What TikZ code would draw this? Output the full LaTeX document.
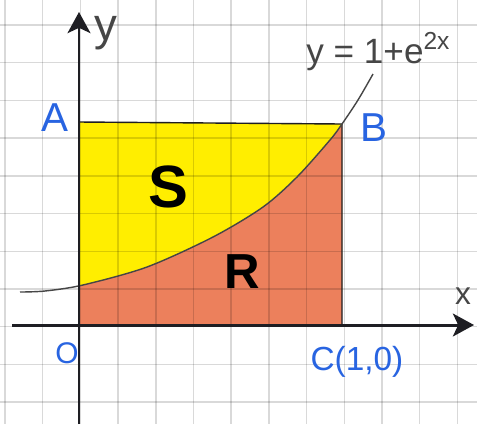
\documentclass[tikz,border=0pt]{standalone}
\usepackage{fontspec}
\setmainfont{Liberation Sans}
\usetikzlibrary{arrows.meta}
\definecolor{hiyellow}{RGB}{255,238,0}
\definecolor{salmon}{RGB}{236,128,92}
\definecolor{penblue}{RGB}{40,100,225}
\definecolor{ink}{RGB}{30,30,35}
\definecolor{pencil}{RGB}{70,70,70}
\tikzset{
  gridline/.style={black,opacity=0.15,line width=0.8pt},
  axisline/.style={ink,line width=1.7pt,-{Stealth[length=12pt,width=13pt,inset=3pt]}},
  edgeline/.style={ink,line width=0.8pt},
  curveline/.style={pencil,line width=0.8pt},
  bluelbl/.style={penblue,inner sep=0pt},
  fs/.style={font=\fontsize{#1}{#1}\selectfont},
  fsb/.style={font=\fontsize{#1}{#1}\selectfont\bfseries}
}
\begin{document}
\begin{tikzpicture}[x=0.02cm,y=-0.02cm]
\useasboundingbox (0,0) rectangle (477,424);
\fill[white] (0,0) rectangle (477,424);
% points
\coordinate (O) at (79,325);
\coordinate (A) at (79,122);
\coordinate (B) at (342,124);
\coordinate (C) at (342,325);
\coordinate (D) at (79,286);
\coordinate (ybot) at (79,424);
\coordinate (ytop) at (79,12);
\coordinate (xleft) at (12,325);
\coordinate (xright) at (474,325);
% fills
\fill[hiyellow] (A) -- (B) -- (342,292) -- (79,292) -- cycle;
\fill[salmon] (O) -- (D) -- plot[smooth] coordinates {(83,285) (147,267) (213,237) (263,207) (297,177) (330,140) (342,124)} -- (C) -- cycle;
% grid
\foreach \k in {0,...,12} \draw[gridline] ({5+37.7*\k},0) -- ({5+37.7*\k},424);
\foreach \k in {0,...,10} \draw[gridline] (0,{25+37.7*\k}) -- (477,{25+37.7*\k});
% outline
\draw[edgeline] (A) -- (B) -- (C);
% curve
\draw[curveline] plot[smooth] coordinates {(20,292) (45,291) (83,285) (147,267) (213,237) (263,207) (297,177) (330,140) (342,124) (358,100) (373,74)};
% axes
\draw[axisline] (ybot) -- (ytop);
\draw[axisline] (xleft) -- (xright);
% labels
\node[pencil,fs=26pt,inner sep=0pt] (ylbl) at (106,33) {y};
\node[pencil,fs=18pt,inner sep=0pt] (xlbl) at (463,296) {x};
\node[bluelbl,fs=23pt] (Albl) at (55,118) {A};
\node[bluelbl,fs=23pt] (Blbl) at (374,128) {B};
\node[bluelbl,fs=17pt] (Olbl) at (67,353) {O};
\node[bluelbl,fs=19pt] (Clbl) at (357,362) {C(1,0)};
\node[pencil,fs=20pt,inner sep=0pt,anchor=base west] (eq) at (306,63) {y = 1+e\textsuperscript{2x}};
\node[fsb=34pt,inner sep=0pt] (Slbl) at (168,187) {S};
\node[fsb=28pt,inner sep=0pt] (Rlbl) at (242,272) {R};
\end{tikzpicture}
\end{document}
